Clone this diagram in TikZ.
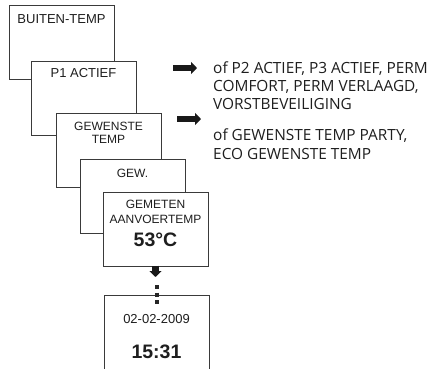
\documentclass[tikz,border=0pt]{standalone}
\usepackage{fontspec}
\setmainfont{Liberation Sans}
\newfontfamily\descfont{Open Sans}
\usetikzlibrary{arrows.meta,calc}
\definecolor{boxline}{HTML}{3A3A3A}
\definecolor{inktext}{HTML}{1E1E1E}
\tikzset{
  screen/.style={draw=boxline, line width=0.8pt, fill=white, inner sep=0pt, outer sep=0pt,
                 minimum width=105pt, minimum height=74pt, anchor=north west},
  lbl/.style={inner sep=0pt, text=inktext, font=\fontsize{12}{14}\selectfont},
  lblbig/.style={inner sep=0pt, text=inktext, font=\fontsize{13}{15}\selectfont},
  valbig/.style={inner sep=0pt, text=inktext, font=\fontsize{19.5}{22}\selectfont\bfseries},
  desc/.style={inner sep=0pt, anchor=west, text=inktext, font=\descfont\fontsize{15.4}{17.5}\selectfont},
  blockarrow/.style={line width=6.5pt, draw=black!90, -{Triangle[width=12pt,length=6pt]}},
  dotline/.style={line width=4pt, draw=black!85, dash pattern=on 4pt off 3.5pt}
}
\begin{document}
\begin{tikzpicture}[x=1pt,y=-1pt]
\clip (0,0) rectangle (429,368);
\useasboundingbox (0,0) rectangle (429,368);
% screens
\node[screen] (b1) at (9,5) {};
\node[lblbig] (t1) at ($(b1.north)+(0,14)$) {BUITEN-TEMP};
\node[screen] (b2) at (31,61) {};
\node[lblbig] (t2) at ($(b2.north)+(0,12.5)$) {P1 ACTIEF};
\node[screen] (b3) at (56,113) {};
\node[lbl] (t3a) at ($(b3.north)+(0,13)$) {GEWENSTE};
\node[lbl] (t3b) at ($(b3.north)+(0,26)$) {TEMP};
\node[screen] (b4) at (80,159) {};
\node[lbl] (t4) at ($(b4.north)+(0,14)$) {GEW.};
\node[screen] (b5) at (103,192) {};
\node[lbl] (t5a) at ($(b5.north)+(0,12.5)$) {GEMETEN};
\node[lbl] (t5b) at ($(b5.north)+(0,27.5)$) {AANVOERTEMP};
\node[valbig] (t5c) at ($(b5.north)+(0,48)$) {53°C};
\node[screen, minimum height=90pt] (b6) at (104,295) {};
\node[lblbig] (t6a) at ($(b6.north)+(0,24)$) {02-02-2009};
\node[valbig] (t6b) at ($(b6.north)+(0,57)$) {15:31};
% down arrow and dots
\coordinate (dn) at ($(b5.south)+(0,11)$);
\draw[blockarrow] ($(b5.south)+(0,-0.5)$) -- (dn);
\coordinate (d1) at ($(b6.north)+(0,-10)$);
\coordinate (d2) at ($(b6.north)+(0,10)$);
\draw[dotline] (d1) -- (d2);
% right side
\coordinate (a1s) at (173,68);
\coordinate (a1e) at (197,68);
\draw[blockarrow] (a1s) -- (a1e);
\coordinate (a2s) at (177,119);
\coordinate (a2e) at (201,119);
\draw[blockarrow] (a2s) -- (a2e);
\node[desc] (l1) at (213,69) {of P2 ACTIEF, P3 ACTIEF, PERM};
\node[desc] (l2) at (213,86.5) {COMFORT, PERM VERLAAGD,};
\node[desc] (l3) at (213,104) {VORSTBEVEILIGING};
\node[desc] (l4) at (213,135.5) {of GEWENSTE TEMP PARTY,};
\node[desc] (l5) at (213,153.5) {ECO GEWENSTE TEMP};
\end{tikzpicture}
\end{document}
